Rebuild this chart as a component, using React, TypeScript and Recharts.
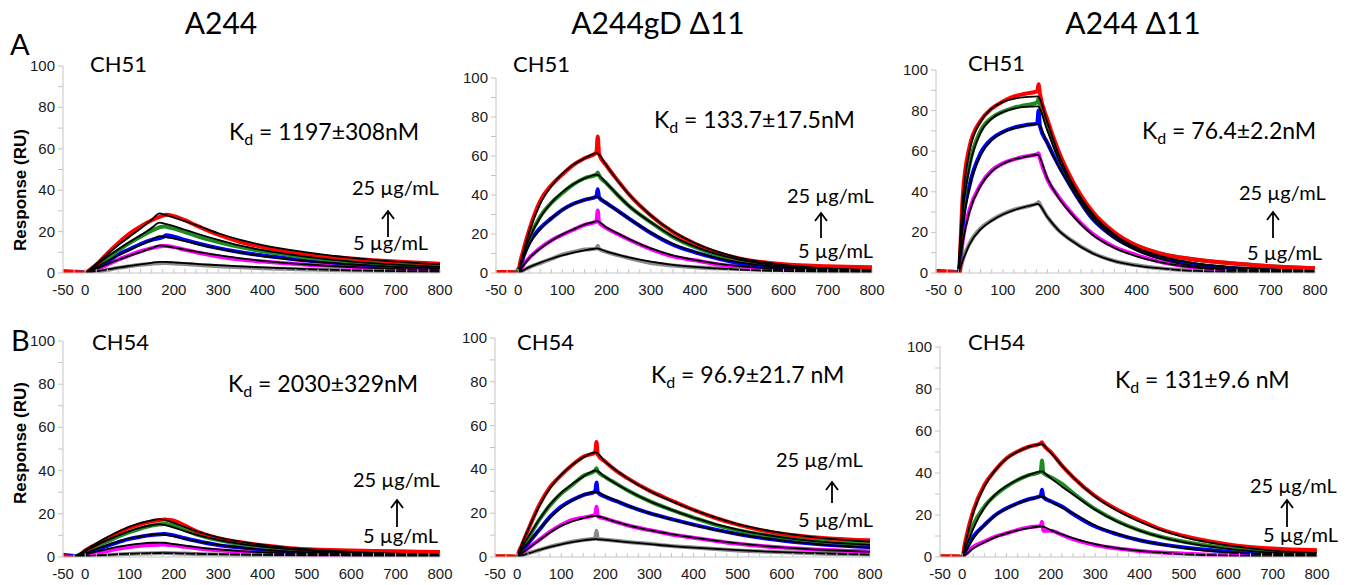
import React from 'react';
import { LineChart, Line, XAxis, YAxis } from 'recharts';

// time grid (s) for the measured traces and for the fitted curves
const T_DATA = [-50, -25, -5, 0, 3, 10, 25, 50, 75, 100, 125, 150, 177, 180, 183, 200, 225, 250, 300, 350, 400, 450, 500, 600, 700, 800];
const T_FIT = [-25, 0, 10, 25, 50, 75, 100, 125, 150, 168, 178, 200, 225, 250, 300, 350, 400, 500, 600, 700, 800];

// highest to lowest concentration
const COLORS = ['#ff0000', '#1f8a1f', '#0000ff', '#ff00ff', '#8a8a8a'];

const COLUMN_TITLES = ['A244', 'A244gD \u039411', 'A244 \u039411'];
const ROW_LETTERS = ['A', 'B'];
const ANTIBODIES = ['CH51', 'CH54'];
const KD_LABELS = ['1197\u00b1308nM', '133.7\u00b117.5nM', '76.4\u00b12.2nM', '2030\u00b1329nM', '96.9\u00b121.7 nM', '131\u00b19.6 nM'];
const CONC_HIGH = '25 \u00b5g/mL';
const CONC_LOW = '5 \u00b5g/mL';

const X_TICKS = [-50, -25, 0, 25, 50, 75, 100, 125, 150, 175, 200, 225, 250, 275, 300, 325, 350, 375, 400, 425, 450, 475, 500, 525, 550, 575, 600, 625, 650, 675, 700, 725, 750, 775, 800];
const X_LABELS = [-50, 0, 100, 200, 300, 400, 500, 600, 700, 800];
const Y_TICKS = [0, 10, 20, 30, 40, 50, 60, 70, 80, 90, 100];
const Y_LABELS = [0, 20, 40, 60, 80, 100];

// A244 / CH51
const A244_CH51_DATA = [
  [0.5, 0.5, 0.3, -2.5, 0, 1.5, 4, 9.5, 14.5, 19, 22.5, 25.5, 27.8, 28, 28.2, 27.5, 25.5, 23, 18.5, 15, 12.5, 10.5, 9, 7, 5.5, 4.5],
  [0.3, 0.3, 0.2, -0.5, 0, 1, 3, 7, 11, 14.5, 17.5, 20.5, 22.5, 22.5, 22.3, 21.5, 19.8, 18, 15, 12.5, 10.5, 9, 7.5, 5.5, 4, 3.5],
  [0.8, 0.6, 0.4, 0, 0.2, 0.8, 2.5, 5.5, 9, 11.5, 14, 16, 17.5, 18, 18.2, 17.5, 16, 14.5, 12, 10, 8.5, 7.2, 6, 4.5, 3.5, 3],
  [0.3, 0.3, 0.2, 0, 0.1, 0.5, 1.5, 4, 6.5, 8.5, 10.5, 12, 13, 13, 13, 12.5, 11.2, 10, 8, 6.5, 5.5, 4.7, 4, 3, 2.2, 1.8],
  [0, 0, 0, 0, 0, 0, 0.5, 1.5, 2.5, 3.3, 4, 4.5, 4.8, 4.8, 4.8, 4.6, 4.3, 4, 3.3, 2.8, 2.3, 2, 1.7, 1.2, 0.9, 0.7],
];
const A244_CH51_FIT = [
  [null, 0, 1.5, 4.5, 9, 13.5, 17.5, 21.5, 25.8, 28.8, 28.2, 26.8, 25, 23.2, 19.2, 16, 13.5, 10, 7.3, 5.5, 4.2],
  [null, 0, 1.2, 3.8, 7.8, 11.5, 15, 18.3, 21.8, 24.3, 23.9, 22.6, 20.9, 19.2, 16, 13.2, 11, 7.8, 5.5, 4, 3],
  [null, 0, 0.9, 2.8, 5.8, 8.6, 11.2, 13.6, 16, 17.8, 17.5, 16.6, 15.4, 14.1, 11.8, 9.8, 8.2, 5.8, 4.2, 3, 2.2],
  [null, 0, 0.7, 2, 4.3, 6.4, 8.3, 10.1, 12, 13.3, 13.1, 12.3, 11.3, 10.3, 8.6, 7.1, 5.9, 4.1, 2.9, 2, 1.4],
  [null, 0, 0.3, 0.8, 1.7, 2.6, 3.4, 4.2, 4.9, 5.4, 5.35, 5.1, 4.8, 4.4, 3.8, 3.2, 2.7, 1.9, 1.3, 0.9, 0.6],
];

// A244gD delta11 / CH51
const GD11_CH51_DATA = [
  [0.5, 0.5, 0.3, -9, 3, 10, 22, 37, 45, 50.5, 55.5, 58.8, 61.8, 70, 61, 55, 47.5, 40.5, 29.5, 21, 15, 10.5, 7.5, 4.5, 3.5, 3],
  [0.5, 0.5, 0.3, 2, 3, 9, 18, 29, 36, 41, 45.5, 48.6, 50.5, 51.5, 50, 46, 40, 34.5, 26, 18.5, 13.2, 9.3, 6.8, 4.2, 3, 2.5],
  [0.3, 0.3, 0.2, -2, 1, 7, 15.4, 23, 28, 32.4, 35.5, 37.5, 39.2, 43, 38.8, 35.8, 32, 28, 20.5, 14.5, 10.6, 7.5, 5, 3.2, 2.2, 1.8],
  [0.2, 0.2, 0.1, -1, 0.5, 3.5, 7.7, 12.8, 16.7, 19.6, 22.2, 24.7, 26.4, 32, 26, 23, 20, 17.2, 12.3, 8.5, 6.5, 4.5, 3.4, 2.2, 1.5, 1.2],
  [0, 0, 0, 0, 0.3, 1.2, 2.9, 5.1, 7.2, 9.4, 10.8, 12, 12.5, 14, 12.3, 10.8, 9.2, 7.7, 5.1, 3.8, 2.9, 2.4, 2, 1.5, 1.2, 1],
];
const GD11_CH51_FIT = [
  [null, 0, 9, 21, 35.5, 44.5, 51, 55.5, 58.8, 60.8, 61.5, 55, 47.3, 40.5, 29.5, 21.3, 15.3, 7.8, 4.2, 2.4, 1.6],
  [null, 0, 8, 17.5, 28.5, 36, 41.5, 45.5, 48.5, 50, 50.5, 46, 40, 34.5, 26, 18.8, 13.5, 6.8, 3.5, 2, 1.4],
  [null, 0, 6.5, 14.5, 22.5, 28, 32.4, 35.4, 37.5, 38.6, 39, 35.8, 31.8, 28, 20.8, 15, 10.8, 5.4, 2.8, 1.5, 1.1],
  [null, 0, 3.2, 7.5, 12.5, 16.5, 19.8, 22.4, 24.8, 26, 26.6, 23.3, 20.3, 17.5, 12.6, 9, 6.6, 3.5, 1.9, 1.1, 0.8],
  [null, 0, 1.2, 3, 5.3, 7.3, 9, 10.4, 11.6, 12.3, 12.6, 11, 9.4, 8, 5.8, 4.2, 3.1, 1.7, 1, 0.6, 0.4],
];

// A244 delta11 / CH51
const D11_CH51_DATA = [
  [0.5, 0.5, 0.3, -6, 5, 38, 62, 75, 81, 84.5, 87, 88.3, 89.5, 93, 88.5, 75.5, 60, 48, 30.5, 20, 13.5, 9.8, 7.6, 5, 3.3, 2.3],
  [0.3, 0.3, 0.2, -2, 3, 30, 53, 70, 76.5, 79.5, 81.5, 82.6, 84, 86, 83.5, 72, 57, 46, 29, 19.5, 13.5, 9.8, 7.5, 5, 3.3, 2.3],
  [1, 0.8, 0.5, -4, 2, 24, 43, 59, 66, 69.5, 71.6, 72.8, 73.7, 80, 72.5, 64, 53, 43.5, 27, 17.6, 11.8, 7.8, 5.3, 2.5, 1.8, 1.5],
  [0.3, 0.3, 0.2, -3, 1, 16, 31, 43.5, 50.5, 54, 56, 57.4, 58.5, 59, 56.5, 46, 37.5, 30.5, 19.5, 12.8, 8.8, 5.6, 3.6, 1.6, 1.1, 0.9],
  [0, 0, 0, -1, 0.5, 6.5, 14.5, 22, 26, 29, 31.2, 32.6, 34.3, 35, 33.8, 27.5, 21, 16.7, 10, 5.9, 3.8, 2.4, 1.5, 0.8, 0.5, 0.4],
];
const D11_CH51_FIT = [
  [null, 0, 36, 60, 74.5, 81, 84.3, 85.8, 86.6, 86.9, 87, 74, 58.5, 46.5, 29.5, 19, 12.5, 6, 3.2, 1.8, 1],
  [null, 0, 30, 52, 69, 76, 79.3, 81, 81.8, 82, 82.1, 70, 56, 45, 28.5, 18.5, 12, 5.8, 3, 1.6, 0.9],
  [null, 0, 23, 42, 58, 65.5, 69.3, 71.3, 72.5, 73.3, 73.6, 63.5, 52.5, 43, 27, 17.2, 11, 4.5, 1.9, 0.9, 0.5],
  [null, 0, 15, 30, 43, 50, 53.8, 56, 57.2, 58, 58.3, 46.5, 37, 30, 19, 12.4, 8.2, 3.5, 1.5, 0.7, 0.3],
  [null, 0, 6, 14, 21.5, 25.8, 28.8, 31, 32.6, 33.6, 34, 27.5, 21, 16.5, 9.8, 5.8, 3.6, 1.4, 0.6, 0.3, 0.1],
];

// A244 / CH54
const A244_CH54_DATA = [
  [0.5, 0, 2, 3, 3.3, 4.2, 5.8, 8.5, 11.2, 13.6, 15.2, 16.5, 17.3, 17.4, 17.3, 16.8, 14.5, 12, 8.7, 6.8, 5.4, 4.3, 3.6, 3, 2.6, 2.3],
  [0, 0, 1.5, 2.3, 2.6, 3.4, 5, 7.2, 9.5, 11.5, 13.2, 14.6, 15.3, 15.4, 15.3, 14.5, 12.5, 10.5, 7.8, 6, 4.8, 3.9, 3.3, 2.8, 2.5, 2.2],
  [1, 0.5, 1, 1.5, 1.8, 2.3, 3.4, 5.2, 6.9, 8.4, 9.4, 10.2, 10.6, 10.7, 10.6, 10, 8.7, 7.5, 5.5, 4.4, 3.5, 2.8, 2.3, 1.8, 1.6, 1.4],
  [0, 0, 0.3, 0.6, 0.7, 1, 1.7, 2.8, 3.8, 4.6, 5.2, 5.6, 5.8, 5.8, 5.7, 5.4, 4.7, 4.1, 3.1, 2.4, 1.9, 1.5, 1.2, 1, 0.8, 0.7],
  [0, 0, 0, 0.2, 0.2, 0.3, 0.5, 0.9, 1.2, 1.4, 1.6, 1.7, 1.8, 1.8, 1.8, 1.7, 1.6, 1.4, 1.2, 1, 0.8, 0.7, 0.6, 0.4, 0.3, 0.2],
];
const A244_CH54_FIT = [
  [0, 3.2, 4.5, 6.3, 9.2, 11.8, 14, 15.8, 17, 17.5, 17.2, 15.8, 13.8, 12, 9.1, 7.1, 5.6, 3.6, 2.4, 1.6, 1.1],
  [0, 2.7, 3.8, 5.4, 7.8, 10, 12, 13.6, 14.7, 15.2, 14.9, 13.6, 11.9, 10.4, 7.9, 6.1, 4.8, 3, 2, 1.3, 0.9],
  [0, 1.8, 2.5, 3.7, 5.5, 7.2, 8.6, 9.6, 10.3, 10.6, 10.4, 9.5, 8.4, 7.4, 5.7, 4.4, 3.4, 2.1, 1.4, 0.9, 0.6],
  [0, 1.2, 1.7, 2.5, 3.7, 4.8, 5.6, 6.2, 6.6, 6.7, 6.6, 6, 5.3, 4.6, 3.5, 2.7, 2.1, 1.3, 0.8, 0.5, 0.3],
  [0, 0.4, 0.5, 0.7, 1, 1.3, 1.5, 1.7, 1.8, 1.85, 1.83, 1.75, 1.63, 1.5, 1.3, 1.1, 1, 0.8, 0.6, 0.5, 0.4],
];

// A244gD delta11 / CH54
const GD11_CH54_DATA = [
  [0.3, 0.3, 0.2, -5, 1.5, 5, 12.3, 23.7, 32, 37.4, 42, 45.8, 47.8, 52.5, 46.8, 43.5, 39.3, 36, 30.3, 25.8, 21.5, 17.8, 14.8, 10.6, 8.6, 7.6],
  [0.2, 0.2, 0.1, -2, 1, 3.8, 8.5, 16.9, 23.7, 29, 32.9, 37, 39.5, 40.5, 39, 36.5, 33.5, 30.5, 25.5, 21.5, 18, 14.7, 12.2, 9, 7, 6],
  [0, 0, 0, -1.5, 0.8, 2.7, 6.2, 12.3, 18.4, 23, 26, 28.3, 29.8, 34, 29.5, 27.5, 25.5, 23.5, 20, 17.3, 14.8, 12.5, 10.5, 7.5, 5.6, 4.6],
  [0, 0, 0, -1, 0.5, 1.6, 4, 7.8, 11.6, 14.6, 16.9, 18, 19.2, 23, 18.6, 17.5, 16, 14.5, 12.3, 10.3, 8.8, 7.3, 6, 4.3, 3.2, 2.6],
  [0, 0, 0, -0.5, 0.3, 0.7, 1.7, 3.2, 4.7, 5.9, 7, 7.8, 8.5, 12, 8.2, 7.9, 7.4, 6.9, 6, 5, 4.3, 3.6, 3, 2.2, 1.5, 1.1],
];
const GD11_CH54_FIT = [
  [null, 0, 5.5, 12.5, 23, 31.5, 37.5, 42, 45.5, 47.3, 47.8, 43.5, 39.5, 36, 30.2, 25.5, 21.5, 15, 11, 8.5, 7],
  [null, 0, 4, 9, 17, 24, 29.3, 33.3, 36.7, 38.8, 39.5, 36.5, 33.3, 30.5, 25.5, 21.5, 18, 12.5, 9, 6.8, 5.5],
  [null, 0, 3, 6.5, 12.5, 18, 22.5, 25.8, 28.3, 29.5, 29.8, 27.8, 25.7, 23.6, 20, 17.2, 14.6, 10.5, 7.6, 5.5, 4.2],
  [null, 0, 1.5, 3.8, 7.6, 11.2, 14.2, 16.2, 17.8, 18.6, 18.8, 17.6, 16, 14.6, 12.3, 10.4, 8.8, 6.2, 4.4, 3.2, 2.3],
  [null, 0, 0.6, 1.6, 3.2, 4.6, 5.8, 6.8, 7.6, 8, 8.1, 7.8, 7.3, 6.8, 5.9, 5, 4.3, 3.1, 2.2, 1.6, 1.1],
];

// A244 delta11 / CH54 (four concentrations)
const D11_CH54_DATA = [
  [0.3, 0.3, 0.2, -6, 2, 10, 22, 34.3, 41.4, 47, 50.2, 52.5, 54.1, 54.6, 53.5, 50, 43.5, 38, 29, 22.5, 17.5, 13, 10, 6, 4, 3.2],
  [0.2, 0.2, 0.1, -8, 1, 6, 15.2, 24, 29.5, 33.5, 36.7, 39, 40.6, 46, 40, 38, 34.8, 30.5, 22.8, 17, 12.7, 9.5, 7.3, 4.3, 2.8, 2.2],
  [0, 0, 0, -3, 0.5, 4, 9.7, 15.2, 20, 23.2, 25.6, 27.5, 29, 32, 28.5, 26.5, 24, 20.5, 14.5, 10.8, 8, 6, 4.5, 2.6, 1.6, 1.2],
  [0, 0, 0, -2, 0.3, 1.8, 4.9, 7.3, 9.7, 11.3, 12.9, 14.1, 14.8, 16.8, 12.5, 12.5, 10.5, 8.5, 5.7, 4, 2.9, 2.1, 1.6, 1, 0.7, 0.5],
];
const D11_CH54_FIT = [
  [null, 0, 9, 21, 33.5, 41.5, 46.8, 50.2, 52.4, 53.4, 53.8, 49.5, 43.5, 38, 28.7, 22, 16.8, 9.5, 5.5, 3, 1.8],
  [null, 0, 5.5, 13.5, 23.5, 29.8, 33.8, 36.8, 39, 40.3, 40.8, 37.5, 33.5, 29.8, 22.5, 16.8, 12.6, 7, 3.9, 2.1, 1.2],
  [null, 0, 3.5, 8.8, 15.3, 19.8, 23, 25.5, 27.3, 28.4, 28.8, 26.3, 23.5, 20.8, 15, 11, 8, 4.2, 2.2, 1.2, 0.6],
  [null, 0, 1.5, 4, 7, 9.5, 11.3, 12.7, 13.8, 14.4, 14.6, 12.8, 10.8, 9, 6.1, 4.2, 2.9, 1.4, 0.7, 0.3, 0.2],
];

const AXIS_COLOR = '#c4c4c4';
const TICK_FONT = '"Liberation Sans", Arial, sans-serif';
const TEXT_FONT = 'Lato, "Open Sans", sans-serif';

type Plot = { x0: number; x1: number; y0: number; y1: number };
type PanelDef = {
  data: number[][];
  fit: (number | null)[][];
  plot: Plot;
  col: number;
  row: number;
  ab: [number, number];
  kd: [number, number];
  hi: [number, number];
  arrow: [number, number, number];
  lo: [number, number];
};

const PANELS: PanelDef[] = [
  { data: A244_CH51_DATA, fit: A244_CH51_FIT, plot: { x0: 63, x1: 440, y0: 66, y1: 273 }, col: 0, row: 0,
    ab: [90, 72], kd: [229, 140], hi: [352, 195], arrow: [388, 211, 237], lo: [353, 250] },
  { data: GD11_CH51_DATA, fit: GD11_CH51_FIT, plot: { x0: 496, x1: 872, y0: 78, y1: 273 }, col: 1, row: 0,
    ab: [513, 72], kd: [654, 128], hi: [787, 203], arrow: [821, 213, 238], lo: [798, 258] },
  { data: D11_CH51_DATA, fit: D11_CH51_FIT, plot: { x0: 936, x1: 1315, y0: 70, y1: 273 }, col: 2, row: 0,
    ab: [968, 71], kd: [1142, 139], hi: [1239, 200], arrow: [1273, 212, 238], lo: [1247, 260] },
  { data: A244_CH54_DATA, fit: A244_CH54_FIT, plot: { x0: 63, x1: 440, y0: 341, y1: 557 }, col: 0, row: 1,
    ab: [92, 350], kd: [228, 392], hi: [353, 487], arrow: [397, 500, 527], lo: [363, 543] },
  { data: GD11_CH54_DATA, fit: GD11_CH54_FIT, plot: { x0: 495, x1: 870, y0: 338, y1: 557 }, col: 1, row: 1,
    ab: [517, 350], kd: [651, 383], hi: [776, 467], arrow: [832, 482, 503], lo: [798, 527] },
  { data: D11_CH54_DATA, fit: D11_CH54_FIT, plot: { x0: 940, x1: 1317, y0: 347, y1: 557 }, col: 2, row: 1,
    ab: [968, 350], kd: [1115, 388], hi: [1250, 493], arrow: [1287, 500, 527], lo: [1263, 542] },
];

const toRows = (ts: number[], vs: (number | null)[]) => ts.map((t, i) => ({ t, v: vs[i] }));

const XTick = ({ x, y, payload }: any) => (
  <g>
    <line x1={x} x2={x} y1={y} y2={y - 4} stroke={AXIS_COLOR} />
    {X_LABELS.includes(payload.value) && (
      <text x={x} y={y + 22} textAnchor="middle" fontSize={15} fill="#1a1a1a" fontFamily={TICK_FONT}>
        {payload.value}
      </text>
    )}
  </g>
);

const YTick = ({ x, y, payload }: any) => (
  <g>
    <line x1={x} x2={x - 5} y1={y} y2={y} stroke={AXIS_COLOR} />
    {Y_LABELS.includes(payload.value) && (
      <text x={x - 8} y={y + 5} textAnchor="end" fontSize={15} fill="#1a1a1a" fontFamily={TICK_FONT}>
        {payload.value}
      </text>
    )}
  </g>
);

const YW = 40;
const XH = 32;
const MT = 10;
const MR = 14;

function Panel({ p }: { p: PanelDef }) {
  const left = p.plot.x0 - YW;
  const top = p.plot.y0 - MT;
  const width = p.plot.x1 + MR - left;
  const height = p.plot.y1 + XH - top;
  // draw lowest concentration first so the red trace sits on top
  const order = p.data.map((_, i) => i).reverse();
  return (
    <div style={{ position: 'absolute', left, top }}>
      <LineChart width={width} height={height} margin={{ top: MT, right: MR, bottom: 0, left: 0 }}>
        <XAxis
          type="number"
          dataKey="t"
          domain={[-50, 800]}
          ticks={X_TICKS}
          interval={0}
          height={XH}
          tickSize={0}
          tickMargin={0}
          tickLine={false}
          axisLine={{ stroke: AXIS_COLOR }}
          tick={(props: any) => <XTick {...props} />}
        />
        <YAxis
          type="number"
          domain={[0, 100]}
          allowDataOverflow
          ticks={Y_TICKS}
          interval={0}
          width={YW}
          tickSize={0}
          tickMargin={0}
          tickLine={false}
          axisLine={{ stroke: AXIS_COLOR }}
          tick={(props: any) => <YTick {...props} />}
        />
        {order.map((i) => (
          <Line
            key={`d${i}`}
            data={toRows(T_DATA, p.data[i])}
            dataKey="v"
            type="monotone"
            stroke={COLORS[i]}
            strokeWidth={4}
            dot={false}
            activeDot={false}
            isAnimationActive={false}
          />
        ))}
        {order.map((i) => (
          <Line
            key={`f${i}`}
            data={toRows(T_FIT, p.fit[i])}
            dataKey="v"
            type="monotone"
            stroke="#000"
            strokeWidth={1.8}
            dot={false}
            activeDot={false}
            isAnimationActive={false}
          />
        ))}
      </LineChart>
    </div>
  );
}

function Labels() {
  const txt = { fontFamily: TEXT_FONT, fill: '#000' };
  return (
    <svg width={1350} height={585} style={{ position: 'absolute', left: 0, top: 0, pointerEvents: 'none' }}>
      {COLUMN_TITLES.map((t, i) => (
        <text key={t} x={[221, 658, 1133][i]} y={34} textAnchor="middle" fontSize={30} {...txt}>{t}</text>
      ))}
      <text x={10} y={55} fontSize={29} {...txt}>{ROW_LETTERS[0]}</text>
      <text x={11} y={351} fontSize={29} {...txt}>{ROW_LETTERS[1]}</text>
      {[190, 443].map((cy) => (
        <text key={cy} transform={`translate(26,${cy}) rotate(-90)`} textAnchor="middle" fontSize={17} fontWeight="bold"
          fontFamily={TICK_FONT} fill="#000">Response (RU)</text>
      ))}
      {PANELS.map((p, i) => (
        <g key={i}>
          <text x={p.ab[0]} y={p.ab[1]} fontSize={22} {...txt}>{ANTIBODIES[p.row]}</text>
          <text x={p.kd[0]} y={p.kd[1]} fontSize={23} {...txt}>
            K<tspan dy={5} fontSize={16}>d</tspan><tspan dy={-5}>{` = ${KD_LABELS[i]}`}</tspan>
          </text>
          <text x={p.hi[0]} y={p.hi[1]} fontSize={20} {...txt}>{CONC_HIGH}</text>
          <text x={p.lo[0]} y={p.lo[1]} fontSize={20} {...txt}>{CONC_LOW}</text>
          <path
            d={`M${p.arrow[0]},${p.arrow[2]} L${p.arrow[0]},${p.arrow[1]} M${p.arrow[0] - 6},${p.arrow[1] + 8} L${p.arrow[0]},${p.arrow[1]} L${p.arrow[0] + 6},${p.arrow[1] + 8}`}
            stroke="#000" strokeWidth={1.8} fill="none"
          />
        </g>
      ))}
    </svg>
  );
}

export default function App() {
  return (
    <div style={{ position: 'absolute', left: 0, top: 0, width: 1350, height: 585, background: '#fff', overflow: 'hidden' }}>
      {/* traces dip slightly below the baseline at injection; keep them visible */}
      <style>{'.sensorgrams g[clip-path] { clip-path: none; }'}</style>
      <div className="sensorgrams">
        {PANELS.map((p, i) => (
          <Panel key={i} p={p} />
        ))}
      </div>
      <Labels />
    </div>
  );
}
